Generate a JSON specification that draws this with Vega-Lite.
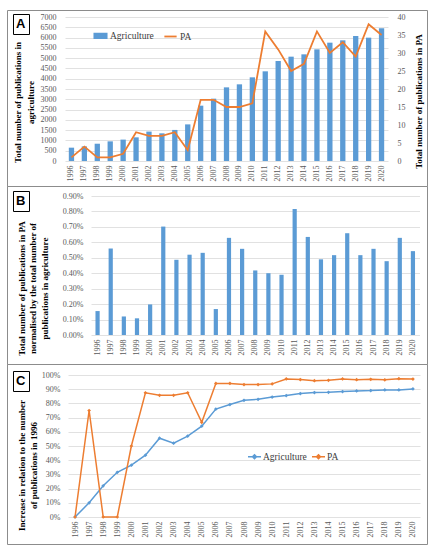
{
  "$schema": "https://vega.github.io/schema/vega-lite/v6.json",
  "padding": {"left": 6, "top": 9, "right": 4, "bottom": 7},
  "spacing": 0,
  "bounds": "flush",
  "resolve": {
    "scale": {"color": "independent", "opacity": "independent"},
    "legend": {"color": "independent", "opacity": "independent"}
  },
  "datasets": {
    "counts": [
      {"year": 1996, "agri": 648, "pa": 1, "ratio": 0.00155},
      {"year": 1997, "agri": 710, "pa": 4, "ratio": 0.0056},
      {"year": 1998, "agri": 840, "pa": 1, "ratio": 0.0012},
      {"year": 1999, "agri": 955, "pa": 1, "ratio": 0.00108},
      {"year": 2000, "agri": 1040, "pa": 2, "ratio": 0.00198},
      {"year": 2001, "agri": 1150, "pa": 8, "ratio": 0.00702},
      {"year": 2002, "agri": 1430, "pa": 7, "ratio": 0.00487},
      {"year": 2003, "agri": 1345, "pa": 7, "ratio": 0.0052},
      {"year": 2004, "agri": 1510, "pa": 8, "ratio": 0.00532},
      {"year": 2005, "agri": 1780, "pa": 3, "ratio": 0.00168},
      {"year": 2006, "agri": 2690, "pa": 17, "ratio": 0.00629},
      {"year": 2007, "agri": 3030, "pa": 17, "ratio": 0.00558},
      {"year": 2008, "agri": 3580, "pa": 15, "ratio": 0.00418},
      {"year": 2009, "agri": 3727, "pa": 15, "ratio": 0.004},
      {"year": 2010, "agri": 4067, "pa": 16, "ratio": 0.0039},
      {"year": 2011, "agri": 4359, "pa": 36, "ratio": 0.00816},
      {"year": 2012, "agri": 4861, "pa": 31, "ratio": 0.00635},
      {"year": 2013, "agri": 5072, "pa": 25, "ratio": 0.0049},
      {"year": 2014, "agri": 5185, "pa": 27, "ratio": 0.00517},
      {"year": 2015, "agri": 5428, "pa": 36, "ratio": 0.00659},
      {"year": 2016, "agri": 5752, "pa": 30, "ratio": 0.00517},
      {"year": 2017, "agri": 5866, "pa": 33, "ratio": 0.00558},
      {"year": 2018, "agri": 6076, "pa": 29, "ratio": 0.00478},
      {"year": 2019, "agri": 5995, "pa": 38, "ratio": 0.00629},
      {"year": 2020, "agri": 6449, "pa": 35, "ratio": 0.00543}
    ],
    "increase": [
      {"year": 1996, "Agriculture": 0, "PA": 0},
      {"year": 1997, "Agriculture": 0.1, "PA": 0.75},
      {"year": 1998, "Agriculture": 0.22, "PA": 0},
      {"year": 1999, "Agriculture": 0.315, "PA": 0},
      {"year": 2000, "Agriculture": 0.365, "PA": 0.5},
      {"year": 2001, "Agriculture": 0.435, "PA": 0.875},
      {"year": 2002, "Agriculture": 0.555, "PA": 0.857},
      {"year": 2003, "Agriculture": 0.52, "PA": 0.857},
      {"year": 2004, "Agriculture": 0.57, "PA": 0.875},
      {"year": 2005, "Agriculture": 0.64, "PA": 0.667},
      {"year": 2006, "Agriculture": 0.76, "PA": 0.941},
      {"year": 2007, "Agriculture": 0.792, "PA": 0.941},
      {"year": 2008, "Agriculture": 0.822, "PA": 0.933},
      {"year": 2009, "Agriculture": 0.829, "PA": 0.933},
      {"year": 2010, "Agriculture": 0.845, "PA": 0.9375},
      {"year": 2011, "Agriculture": 0.855, "PA": 0.972},
      {"year": 2012, "Agriculture": 0.869, "PA": 0.968},
      {"year": 2013, "Agriculture": 0.876, "PA": 0.96},
      {"year": 2014, "Agriculture": 0.878, "PA": 0.963},
      {"year": 2015, "Agriculture": 0.883, "PA": 0.972},
      {"year": 2016, "Agriculture": 0.888, "PA": 0.967},
      {"year": 2017, "Agriculture": 0.89, "PA": 0.97},
      {"year": 2018, "Agriculture": 0.895, "PA": 0.966},
      {"year": 2019, "Agriculture": 0.895, "PA": 0.974},
      {"year": 2020, "Agriculture": 0.902, "PA": 0.971}
    ]
  },
  "vconcat": [
    {
      "width": 420,
      "height": 176,
      "data": {"name": "counts"},
      "layer": [
        {
          "mark": {"type": "bar", "color": "#5B9BD5"},
          "encoding": {
            "x": {
              "field": "year",
              "type": "ordinal",
              "scale": {"range": [58, 381], "paddingInner": 0.59, "paddingOuter": 0.295},
              "axis": {"title": null, "offset": -25}
            },
            "y": {
              "field": "agri",
              "type": "quantitative",
              "scale": {"domain": [0, 7000], "range": [151, 7], "nice": false},
              "axis": {
                "offset": -55,
                "labelPadding": 6,
                "format": "d",
                "values": [0, 500, 1000, 1500, 2000, 2500, 3000, 3500, 4000, 4500, 5000, 5500, 6000, 6500, 7000],
                "title": ["Total number of publications in", "agriculture"],
                "titleX": -49,
                "titleY": 92,
                "titleLineHeight": 13
              }
            },
            "color": {
              "datum": "Agriculture",
              "type": "nominal",
              "scale": {"domain": ["Agriculture", "PA"], "range": ["#5B9BD5", "#ED7D31"]},
              "legend": {
                "orient": "none",
                "direction": "horizontal",
                "legendX": 86,
                "legendY": 18,
                "title": null,
                "symbolSize": 150,
                "labelOffset": 2,
                "columnPadding": 6,
                "encode": {
                  "symbols": {
                    "update": {
                      "shape": {"signal": "datum.value === 'PA' ? 'stroke' : 'M-1,-0.35H1V0.35H-1Z'"},
                      "fill": {"signal": "datum.value === 'PA' ? 'transparent' : '#5B9BD5'"},
                      "stroke": {"signal": "datum.value === 'PA' ? '#ED7D31' : 'transparent'"},
                      "strokeWidth": {"value": 1.8}
                    }
                  }
                }
              }
            },
            "opacity": {
              "datum": "A",
              "type": "nominal",
              "scale": {"type": "point", "range": [1, 1]},
              "legend": {
                "orient": "none",
                "legendX": 6,
                "legendY": 4,
                "title": null,
                "symbolType": "circle",
                "symbolSize": 0.01,
                "symbolStrokeWidth": 0.01,
                "labelOffset": -13,
                "labelFont": "Liberation Sans",
                "labelFontSize": 13,
                "labelFontWeight": "bold",
                "labelColor": "#000000",
                "strokeColor": "#000000",
                "fillColor": "#ffffff",
                "padding": 3
              }
            }
          }
        },
        {
          "mark": {"type": "line", "strokeWidth": 1.8},
          "encoding": {
            "x": {"field": "year", "type": "ordinal"},
            "y": {
              "field": "pa",
              "type": "quantitative",
              "scale": {"domain": [0, 40], "range": [151, 7], "nice": false},
              "axis": {
                "orient": "right",
                "grid": false,
                "offset": -34,
                "labelPadding": 4,
                "values": [0, 5, 10, 15, 20, 25, 30, 35, 40],
                "title": "Total number of publications in PA",
                "titleAngle": 270,
                "titleX": 21,
                "titleY": 91
              }
            },
            "color": {"datum": "PA", "type": "nominal"}
          }
        }
      ],
      "resolve": {"scale": {"y": "independent"}}
    },
    {
      "width": 420,
      "height": 178,
      "data": {"name": "counts"},
      "mark": {"type": "bar", "color": "#5B9BD5"},
      "encoding": {
        "x": {
          "field": "year",
          "type": "ordinal",
          "scale": {"range": [84, 412.5], "paddingInner": 0.68, "paddingOuter": 0.34},
          "axis": {"title": null, "offset": -29}
        },
        "y": {
          "field": "ratio",
          "type": "quantitative",
          "scale": {"domain": [0, 0.009], "range": [149, 10], "nice": false},
          "axis": {
            "offset": -84,
            "labelPadding": 8,
            "format": ".2%",
            "values": [0, 0.001, 0.002, 0.003, 0.004, 0.005, 0.006, 0.007, 0.008, 0.009],
            "title": ["Total number of publications in PA", "normalised by the total number of", "publications in agriculture"],
            "titleX": -74,
            "titleY": 102,
            "titleLineHeight": 11.5
          }
        },
        "opacity": {
          "datum": "B",
          "type": "nominal",
          "scale": {"type": "point", "range": [1, 1]},
          "legend": {
            "orient": "none",
            "legendX": 6,
            "legendY": 5,
            "title": null,
            "symbolType": "circle",
            "symbolSize": 0.01,
            "symbolStrokeWidth": 0.01,
            "labelOffset": -13,
            "labelFont": "Liberation Sans",
            "labelFontSize": 13,
            "labelFontWeight": "bold",
            "labelColor": "#000000",
            "strokeColor": "#000000",
            "fillColor": "#ffffff",
            "padding": 3
          }
        }
      }
    },
    {
      "width": 420,
      "height": 180,
      "data": {"name": "increase"},
      "transform": [{"fold": ["Agriculture", "PA"], "as": ["series", "value"]}],
      "mark": {
        "type": "line",
        "strokeWidth": 1.5,
        "point": {"shape": "diamond", "size": 14, "filled": true}
      },
      "encoding": {
        "x": {
          "field": "year",
          "type": "ordinal",
          "scale": {"type": "point", "range": [61, 413], "padding": 0.5},
          "axis": {"title": null, "offset": -27}
        },
        "y": {
          "field": "value",
          "type": "quantitative",
          "scale": {"domain": [0, 1], "range": [153, 11], "nice": false},
          "axis": {
            "offset": -61,
            "labelPadding": 8,
            "format": ".0%",
            "values": [0, 0.1, 0.2, 0.3, 0.4, 0.5, 0.6, 0.7, 0.8, 0.9, 1],
            "title": ["Increase in relation to the number", "of publications in 1996"],
            "titleX": -51,
            "titleY": 101,
            "titleLineHeight": 12
          }
        },
        "color": {
          "field": "series",
          "type": "nominal",
          "scale": {"domain": ["Agriculture", "PA"], "range": ["#5B9BD5", "#ED7D31"]},
          "legend": {
            "orient": "none",
            "direction": "horizontal",
            "legendX": 240,
            "legendY": 85,
            "title": null,
            "symbolSize": 169,
            "labelOffset": 1,
            "columnPadding": 2,
            "symbolType": "M-1,0H1M0,-0.3L0.3,0L0,0.3L-0.3,0Z",
            "symbolStrokeWidth": 1.5
          }
        },
        "opacity": {
          "datum": "C",
          "type": "nominal",
          "scale": {"type": "point", "range": [1, 1]},
          "legend": {
            "orient": "none",
            "legendX": 6,
            "legendY": 7,
            "title": null,
            "symbolType": "circle",
            "symbolSize": 0.01,
            "symbolStrokeWidth": 0.01,
            "labelOffset": -13,
            "labelFont": "Liberation Sans",
            "labelFontSize": 13,
            "labelFontWeight": "bold",
            "labelColor": "#000000",
            "strokeColor": "#000000",
            "fillColor": "#ffffff",
            "padding": 3
          }
        }
      }
    }
  ],
  "config": {
    "font": "Liberation Serif",
    "view": {"stroke": "#8C8C8C", "strokeWidth": 1},
    "axis": {
      "labelFont": "Liberation Serif",
      "labelFontSize": 8,
      "labelColor": "#595959",
      "titleFont": "Liberation Serif",
      "titleFontSize": 9,
      "titleFontWeight": "bold",
      "titleColor": "#000000",
      "titleAlign": "center",
      "titleBaseline": "top",
      "domain": false,
      "ticks": false,
      "tickSize": 0,
      "gridColor": "#D9D9D9",
      "gridWidth": 0.8
    },
    "axisX": {"grid": false, "labelAngle": -90, "labelPadding": 4},
    "legend": {"labelFont": "Liberation Serif", "labelFontSize": 9.5, "labelColor": "#404040"}
  }
}
